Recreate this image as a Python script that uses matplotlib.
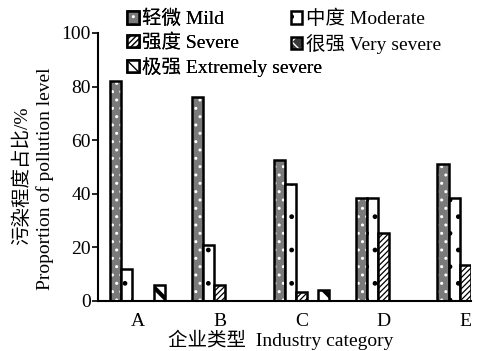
import matplotlib
matplotlib.use("Agg")
import matplotlib.pyplot as plt
import numpy as np
from matplotlib.patches import Patch
from matplotlib.legend_handler import HandlerTuple

plt.rcParams['font.family'] = ['Liberation Serif', 'Noto Sans CJK SC']

categories = ['A', 'B', 'C', 'D', 'E']
levels = ['轻微 Mild', '中度 Moderate', '强度 Severe', '很强 Very severe', '极强 Extremely severe']
mild = [82, 76, 52.5, 38.5, 51]
moderate = [12, 21, 43.5, 38.5, 38.5]
severe = [0, 6, 3.5, 25.5, 13.5]
very_severe = [0, 0, 0, 0, 0]
extremely_severe = [6, 0, 4, 0, 0]
series = [mild, moderate, severe, very_severe, extremely_severe]
yticks = [0, 20, 40, 60, 80, 100]

# fill colour, hatch pattern, hatch colour, hatch line width
styles = [
    ('#7a7a7a', '..', 'white', 1.0),
    ('white', '.', 'black', 1.0),
    ('white', '//////', 'black', 0.9),
    ('#3a3a3a', 'xx', 'white', 1.0),
    ('white', '\\', 'black', 3.0),
]

fig = plt.figure(figsize=(4.79, 3.51), dpi=100)
ax = fig.add_axes([0.2046, 0.1425, 0.7784, 0.7635])

x = np.arange(len(categories))
w = 0.135
handles = []
for i, (vals, (fc, hatch, hc, hlw)) in enumerate(zip(series, styles)):
    pos = x + (i - 2) * w
    with plt.rc_context({'hatch.linewidth': hlw}):
        ax.bar(pos, vals, width=w, color=fc, edgecolor=hc, hatch=hatch, linewidth=0)
        ax.bar(pos, vals, width=w, fill=False, edgecolor='black', linewidth=1.8)
        h1 = Patch(facecolor=fc, edgecolor=hc, hatch=hatch, linewidth=0)
        h2 = Patch(fill=False, edgecolor='black', linewidth=1.8)
    handles.append((h1, h2))

ax.set_xlim(-0.484, 4.07)
ax.set_ylim(0, 100)
ax.set_xticks(x)
ax.set_xticklabels(categories, fontsize=14)
ax.set_yticks(yticks)
ax.set_yticklabels([str(t) for t in yticks], fontsize=14)
ax.tick_params(axis='y', direction='out', length=4, width=1.2, pad=1)
ax.tick_params(axis='x', length=0, pad=9)
for s in ['top', 'right']:
    ax.spines[s].set_visible(False)
for s in ['left', 'bottom']:
    ax.spines[s].set_linewidth(1.5)

# axis titles
fig.text(0.587, 0.031, '企业类型  Industry category', fontsize=14,
         ha='center', va='center')
fig.text(0.045, 0.50, '污染程度占比/%', fontsize=14, rotation=90,
         ha='center', va='center')
fig.text(0.094, 0.49, 'Proportion of pollution level', fontsize=14, rotation=90,
         ha='center', va='center')

legend_kw = dict(loc='upper left', frameon=False, fontsize=14,
                 handlelength=0.6, handleheight=0.6, handletextpad=0.2,
                 labelspacing=0.28, borderpad=0, borderaxespad=0,
                 handler_map={tuple: HandlerTuple(ndivide=1)})
leg1 = fig.legend([handles[k] for k in (0, 2, 4)], [levels[k] for k in (0, 2, 4)],
                  bbox_to_anchor=(0.265, 0.972), **legend_kw)
fig.add_artist(leg1)
fig.legend([handles[k] for k in (1, 3)], [levels[k] for k in (1, 3)],
           bbox_to_anchor=(0.607, 0.972), **legend_kw)

fig.savefig('out.png', dpi=100)
